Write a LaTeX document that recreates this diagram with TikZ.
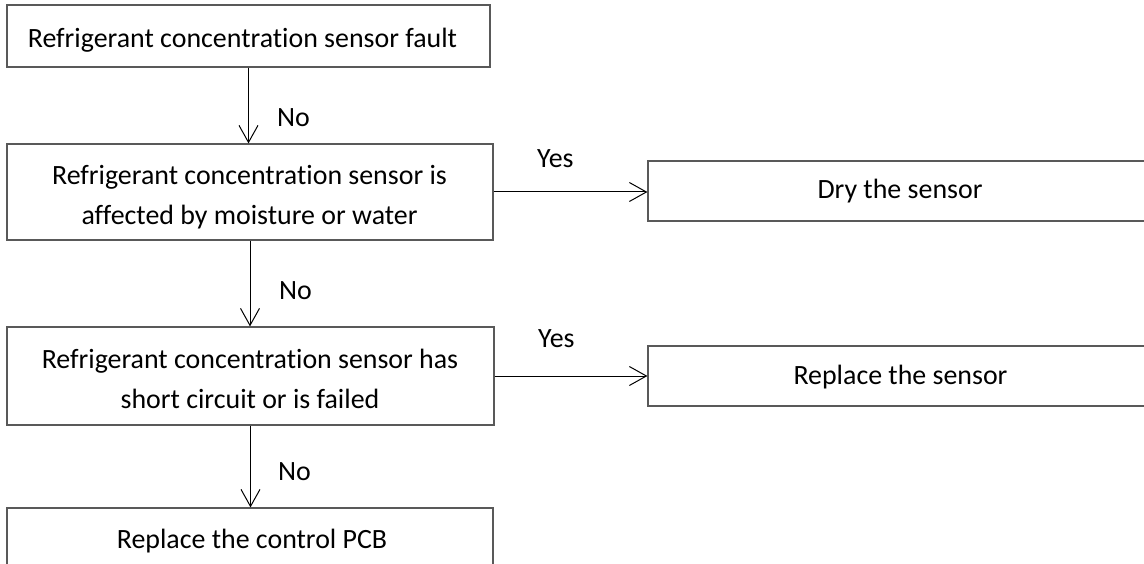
\documentclass[tikz,border=0pt]{standalone}
\usepackage{fontspec}
\setmainfont{Carlito}[Ligatures=NoCommon]
\usetikzlibrary{arrows.meta}
\begin{document}
\begin{tikzpicture}[x=1pt,y=-1pt,
  box/.style={draw=black!65,line width=1.2pt,rectangle,inner sep=0pt},
  txt/.style={font=\fontsize{27.9}{40}\selectfont,inner sep=0pt,anchor=base},
  lbl/.style={font=\fontsize{27.9}{40}\selectfont,inner sep=0pt,anchor=base west},
  arr/.style={draw=black,line width=1pt,-{Straight Barb[length=17pt,width=19pt,line width=1pt]}}]
\useasboundingbox (0,0) rectangle (1144,564);
\begin{scope}
\clip (0,0) rectangle (1144,564);
% boxes
\node[box,minimum width=483pt,minimum height=62pt] (b1) at (248.5,36) {};
\node[box,minimum width=486pt,minimum height=96pt] (b2) at (250,192) {};
\node[box,minimum width=487pt,minimum height=98pt] (b3) at (250.5,376) {};
\node[box,minimum width=486pt,minimum height=62pt] (b4) at (250,539) {};
\node[box,minimum width=504pt,minimum height=60pt] (r1) at (900,191) {};
\node[box,minimum width=504pt,minimum height=60pt] (r2) at (900,376) {};
% texts
\node[txt] (t1) at (242.5,48) {Refrigerant concentration sensor fault};
\node[txt] (t2a) at (249.5,185) {Refrigerant concentration sensor is};
\node[txt] (t2b) at (249.5,225) {affected by moisture or water};
\node[txt] (t3a) at (250,368) {Refrigerant concentration sensor has};
\node[txt] (t3b) at (250,408) {short circuit or is failed};
\node[txt] (t4) at (252,548) {Replace the control PCB};
\node[txt] (tr1) at (900,199) {Dry the sensor};
\node[txt] (tr2) at (900.5,384) {Replace the sensor};
% connectors
\draw[arr] (b1.south) -- (b1.south |- b2.north);
\draw[arr] (b2.south) -- (b2.south |- b3.north);
\draw[arr] (b3.south) -- (b3.south |- b4.north);
\draw[arr] (b2.east) -- (b2.east -| r1.west);
\draw[arr] (b3.east) -- (b3.east -| r2.west);
% labels
\node[lbl] (n1) at (277,127) {No};
\node[lbl] (n2) at (279,300) {No};
\node[lbl] (n3) at (278,480) {No};
\node[lbl] (y1) at (537,168) {Yes};
\node[lbl] (y2) at (538,348) {Yes};
\end{scope}
\end{tikzpicture}
\end{document}
